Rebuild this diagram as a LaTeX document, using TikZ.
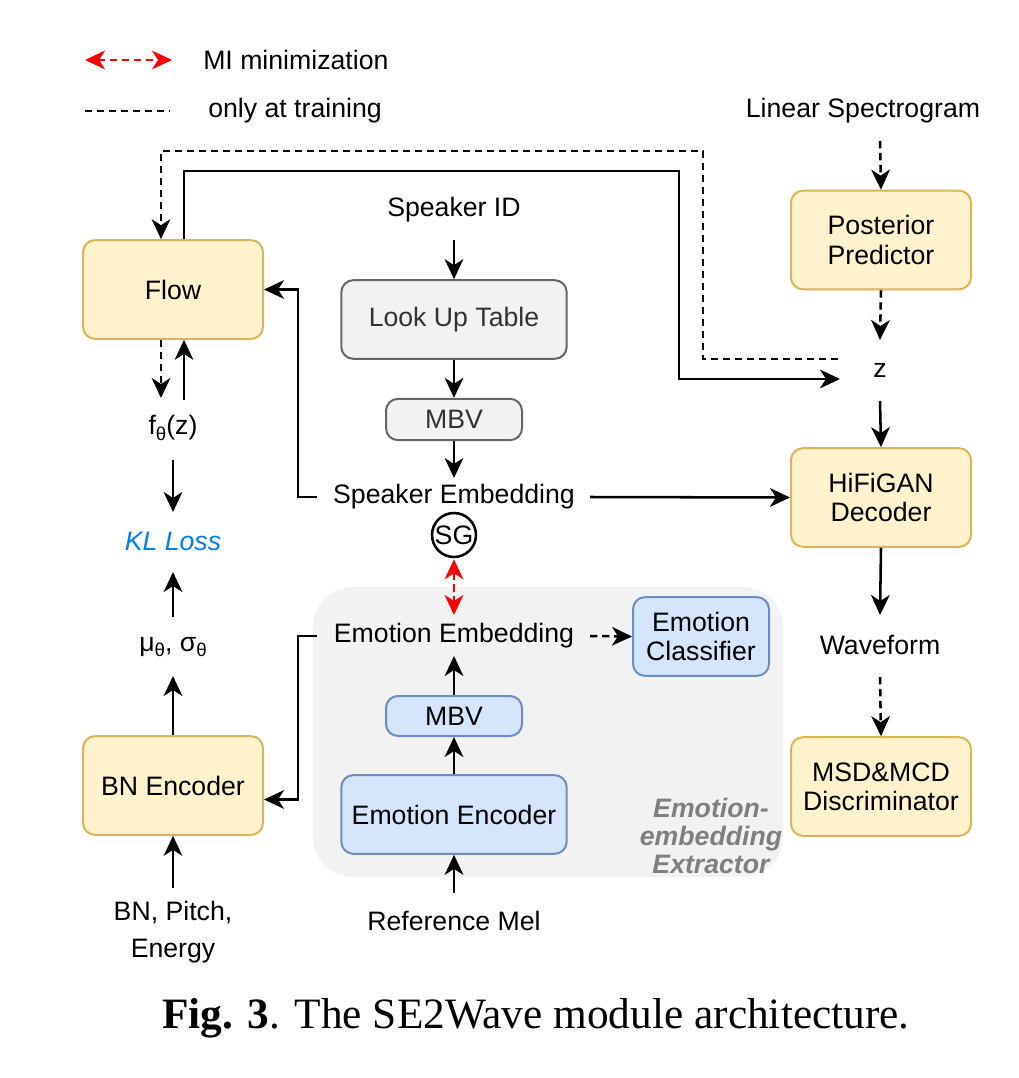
\documentclass[tikz,border=0pt]{standalone}
\usepackage{fontspec}
\setmainfont{Liberation Sans}
\newfontfamily\capfont{Liberation Serif}
\usetikzlibrary{arrows.meta,calc}
\definecolor{yfill}{HTML}{FFF2CC}
\definecolor{ybd}{HTML}{D6B656}
\definecolor{gfill}{HTML}{F2F2F2}
\definecolor{gbd}{HTML}{666666}
\definecolor{gtext}{HTML}{333333}
\definecolor{bfill}{HTML}{D4E5FC}
\definecolor{bbd}{HTML}{6C8EBF}
\definecolor{region}{HTML}{F2F2F2}
\definecolor{klblue}{HTML}{007FFF}
\definecolor{regtext}{HTML}{7F7F7F}
\newcommand\mysub[1]{\raisebox{-0.4ex}{\fontsize{14}{14}\selectfont #1}}
\begin{document}
\begin{tikzpicture}[x=0.75pt,y=-0.75pt,
  font=\fontsize{20}{22}\selectfont,
  ln/.style={line width=1.9pt},
  arr/.style={ln,-{Stealth[length=15pt,width=14pt,inset=4.5pt]}},
  darr/.style={ln,{Stealth[length=15pt,width=14pt,inset=4.5pt]}-{Stealth[length=15pt,width=14pt,inset=4.5pt]}},
  dashln/.style={dash pattern=on 5.5pt off 3.5pt},
  boxbase/.style={line width=1.5pt,rounded corners=9pt,align=center,inner sep=0pt},
  ybox/.style={boxbase,draw=ybd,fill=yfill,minimum width=135pt,minimum height=74pt},
  gbox/.style={boxbase,draw=gbd,fill=gfill,text=gtext},
  bbox/.style={boxbase,draw=bbd,fill=bfill},
  txt/.style={inner sep=0pt,align=center}
]
\useasboundingbox (0,0) rectangle (1018,1078);

% region
\fill[region,rounded corners=30pt] (313,587) rectangle (783,877);
\node[txt,text=regtext,font=\bfseries\itshape\fontsize{20}{21}\selectfont] (regl) at (711,836) {Emotion-\\embedding\\Extractor};

% legend
\coordinate (la) at (85,60);
\coordinate (lb) at (172,60);
\draw[darr,red,dashln] (la) -- (lb);
\node[txt,anchor=west] (leg1) at (203,60) {MI minimization};
\coordinate (lc) at (85,111);
\coordinate (ld) at (170,111);
\draw[ln,dashln] (lc) -- (ld);
\node[txt,anchor=west] (leg2) at (208,111) {only at training};

% boxes
\node[ybox] (flow) at (173,289.5) {Flow};
\node[ybox] (post) at (881,240) {Posterior\\Predictor};
\node[ybox] (hifi) at (881,497.5) {HiFiGAN\\Decoder};
\node[ybox] (msd) at (881,786.5) {MSD\&MCD\\Discriminator};
\node[ybox] (bnenc) at (173,785.5) {BN Encoder};
\node[gbox,minimum width=169pt,minimum height=59pt] (lut) at (454,319.5) {Look Up Table};
\node[gbox,minimum width=102pt,minimum height=31pt] (mbva) at (454,419.5) {MBV};
\node[bbox,minimum width=102pt,minimum height=59pt] (emocls) at (701,636.5) {Emotion\\Classifier};
\node[bbox,minimum width=102pt,minimum height=30pt] (mbvb) at (454,716) {MBV};
\node[bbox,minimum width=169pt,minimum height=59pt] (emoenc) at (454,814.5) {Emotion Encoder};

% texts
\node[txt] (spkid) at (454,210) {Speaker ID};
\node[txt] (spkemb) at (454,497) {Speaker Embedding};
\node[draw,circle,ln,inner sep=0pt,minimum size=33pt] (sg) at (454,535) {SG};
\node[txt] (emoemb) at (454,636) {Emotion Embedding};
\node[txt] (refmel) at (454,921) {Reference Mel};
\node[txt] (linspec) at (863,111) {Linear Spectrogram};
\node[txt] (z) at (880,370) {z};
\node[txt] (wave) at (880,645) {Waveform};
\node[txt] (ftheta) at (173,428) {f\mysub{θ}(z)};
\node[txt,text=klblue,font=\itshape\fontsize{20}{22}\selectfont] (kl) at (173,541) {KL Loss};
\node[txt] (mu) at (173,647) {μ\mysub{θ}, σ\mysub{θ}};
\node[txt,font=\fontsize{20}{28}\selectfont] (bnin) at (173,932) {BN, Pitch,\\Energy};

% caption
\node[txt,font=\capfont\fontsize{32.5}{38}\selectfont] (cap) at (536,1018) {\textbf{Fig. 3}. The SE2Wave module architecture.};

% speaker branch
\draw[arr] ($(spkid)+(0,30)$) -- (lut.north);
\draw[arr] (lut.south) -- (mbva.north);
\draw[arr] (mbva.south) -- ($(spkemb)+(0,-19)$);
\draw[arr] ($(spkemb)+(-137,0)$) -| ($(flow.east)+(34,0)$) -- (flow.east);
\draw[arr] ($(spkemb)+(136,0)$) -- (hifi.west);
\draw[darr,red,dashln] ($(sg.south)+(0,1)$) -- ($(emoemb)+(0,-21)$);

% emotion branch
\draw[arr] ($(refmel)+(0,-28)$) -- (emoenc.south);
\draw[arr] (emoenc.north) -- (mbvb.south);
\draw[arr] (mbvb.north) -- ($(emoemb)+(0,20)$);
\draw[arr,dashln] ($(emoemb)+(136,0)$) -- (emocls.west);
\draw[arr] ($(emoemb)+(-137,0)$) -| ($(bnenc.east)+(34,14)$) -- ($(bnenc.east)+(0,14)$);

% right column
\draw[arr,dashln] ($(linspec)+(17,30)$) -- (post.north);
\draw[arr,dashln] (post.south) -- ($(z)+(0,-30)$);
\draw[arr] ($(z)+(0,31)$) -- (hifi.north);
\draw[arr] (hifi.south) -- ($(wave)+(0,-30)$);
\draw[arr,dashln] ($(wave)+(0,32)$) -- (msd.north);

% flow loops
\draw[arr] ($(flow.north)+(11,0)$) |- (679,171) |- ($(z)+(-40,9)$);
\draw[arr,dashln] ($(z)+(-42,-11)$) -| (703,151) -| ($(flow.north)+(-12,0)$);

% left column
\draw[arr,dashln] ($(flow.south)+(-12,0)$) -- ($(ftheta)+(-12,-30)$);
\draw[arr] ($(ftheta)+(11,-28)$) -- ($(flow.south)+(11,0)$);
\draw[arr] ($(ftheta)+(0,32)$) -- ($(kl)+(0,-29)$);
\draw[arr] ($(mu)+(0,-30)$) -- ($(kl)+(0,31)$);
\draw[arr] (bnenc.north) -- ($(mu)+(0,29)$);
\draw[arr] ($(bnin)+(0,-44)$) -- (bnenc.south);
\end{tikzpicture}
\end{document}
